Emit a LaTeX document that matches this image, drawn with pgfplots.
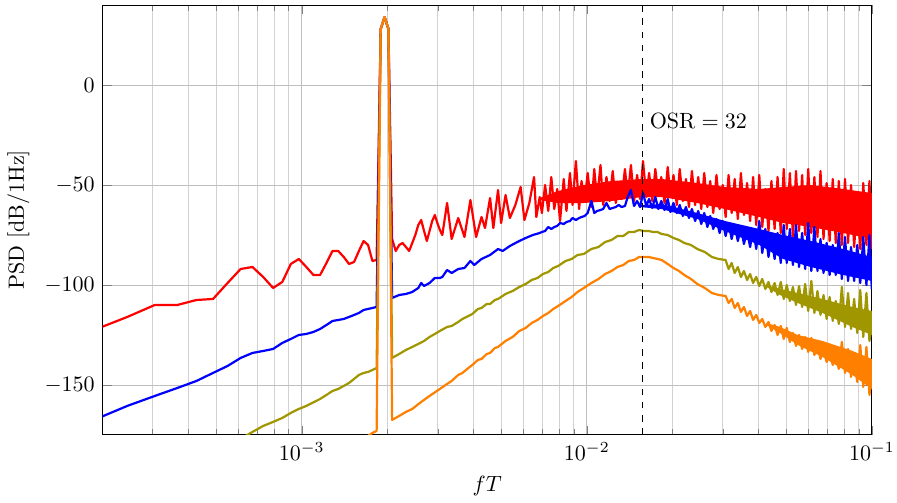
\documentclass[border=0pt]{standalone}
\usepackage{pgfplots}
\usepackage{pgfplotstable}
\pgfplotsset{compat=1.18}
\definecolor{myolive}{RGB}{160,150,0}
\definecolor{myorange}{RGB}{255,128,0}

% k = FFT bin index, f T = k/16384
\pgfplotstableread{
k y
3 -123
4 -116
5 -110
6 -110
7 -107.5
8 -107
9 -99
10 -92
11 -91
12 -96
13 -101.5
14 -98.5
15 -89.5
16 -87
17 -91
18 -95
19 -95
20 -89
21 -83
22 -83
23 -86
24 -89.5
25 -88.5
26 -83
27 -78
28 -80
29 -88
30 -87.5
31 28
32 34
33 28
34 -77
35 -83
36 -80
37 -79
38 -81
39 -83
40 -79
41 -75
42 -70
43 -67.5
44 -73
45 -78
46 -73
47 -68
48 -65
49 -69
50 -72.5
51 -75
53 -59
55 -77
58 -66.5
61 -76
64 -57.5
67 -76
70 -66
72 -71.5
75 -56.5
77 -71.5
80 -52.5
82 -69
85 -55
88 -66.5
92 -60
96 -51
99 -67.5
103 -59
107 -46
109 -66
112 -56
114 -64
117 -50
120 -63
123 -46
126 -62
129 -52
132 -68
136 -47
139 -63
143 -44
146 -60
150 -38
154 -62
157 -48
161 -58
165 -44
170 -61
174 -42
178 -57
183 -40
187 -60
192 -46
197 -58
202 -43
207 -59
212 -49
217 -57
223 -42
228 -56
234 -40
240 -58
246 -45
252 -57
258 -38
265 -56
271 -44
278 -58
285 -42
292 -55
299 -46
307 -59
315 -41
322 -56
330 -45
339 -60
347 -42
356 -58
365 -47
374 -61
383 -43
393 -60
403 -46
413 -62
423 -44
434 -61
444 -48
455 -64
467 -45
479 -62
491 -50
503 -66
515 -45
528 -64
541 -47
555 -67
569 -44
583 -65
598 -49
613 -68
628 -46
644 -70
660 -45
676 -71
693 -52
711 -73
728 -48
747 -72
765 -46
785 -74
804 -42
824 -72
845 -44
866 -76
888 -43
910 -73
933 -45
956 -75
980 -42
1005 -74
1030 -46
1056 -76
1082 -43
1109 -77
1137 -49
1165 -78
1195 -47
1224 -79
1255 -48
1286 -80
1319 -47
1352 -79
1385 -50
1420 -81
1456 -59
1492 -82
1529 -49
1568 -80
1607 -48
1638 -82
}\redtab

\pgfplotstableread{
k y
112 -56.5
130 -53
160 -50
200 -48
256 -47
300 -47
400 -49
500 -51
660 -52
800 -51
1000 -50
1300 -52
1638 -54
1638 -77
1300 -74
1000 -71
800 -69
660 -66
500 -62
400 -59
300 -56
256 -56
200 -58
160 -59
130 -59
112 -57.5
}\redcore

\pgfplotstableread{
k y
3 -168
4 -160.5
5 -155.5
6 -151.5
7 -148
8 -144
9 -140.5
10 -136.5
11 -134
12 -133
13 -132
14 -129
15 -127
16 -125
17 -124.5
18 -123.5
19 -122
20 -120
21 -118
22 -117.5
23 -117
24 -116
25 -115
26 -114
27 -112.5
28 -112
29 -111.5
30 -111
31 28
32 34
33 28
34 -106.5
36 -105
38 -104.5
40 -103.5
42 -101.5
43 -99
44 -100.5
46 -99
48 -96.5
50 -96.5
51 -96
53 -92.5
55 -94
58 -92
61 -91.5
64 -88
66 -90
70 -87
75 -85
80 -82
83 -83
88 -80.5
95 -78
100 -76.5
106 -75
112 -74
114 -73.5
117 -73
120 -71
123 -72
126 -71
129 -70.5
132 -69
136 -69.5
139 -68.5
143 -68
146 -66.5
150 -67.5
154 -66.5
157 -66
161 -65.5
165 -64
170 -58
174 -64
178 -63
183 -62.5
187 -62
192 -59
197 -62
202 -61.5
207 -61
212 -60
217 -61
223 -60.5
228 -56
234 -52.5
240 -60.5
246 -58
252 -61
258 -54
265 -60.5
271 -57
278 -61.5
285 -56
292 -62
299 -58
307 -62.5
315 -57
322 -63.5
330 -59
339 -64
347 -60
356 -65.5
365 -61
374 -66.5
383 -62
393 -68
403 -63
413 -69.5
423 -64
434 -71
444 -65.5
455 -72
467 -67
479 -74
491 -68
503 -75.5
515 -69
528 -77
541 -70
555 -78
569 -71
583 -79.5
598 -73
613 -81
628 -72
644 -82
660 -68
676 -84
693 -72
711 -86
728 -76
747 -87
765 -74
785 -89
804 -70
824 -89
845 -72
866 -90
888 -70
910 -91
933 -74
956 -92
980 -69
1005 -93
1030 -71
1056 -93
1082 -77
1109 -94
1137 -79
1165 -95
1195 -80
1224 -95
1255 -74
1286 -97
1319 -76
1352 -98
1385 -81
1420 -98
1456 -80
1492 -99
1529 -76
1568 -100
1607 -75
1638 -102
}\bluetab

\pgfplotstableread{
k y
250 -60
300 -59.5
400 -64
500 -68
660 -72
800 -75
1000 -78
1300 -82
1638 -86
1638 -98
1300 -95
1000 -91
800 -87
660 -80
500 -73
400 -67
300 -62
250 -61
}\bluecore

\pgfplotstableread{
k y
3 -210
6 -190
9 -180.5
10 -177
11 -173.5
12 -170.5
13 -168.5
14 -166.5
15 -164
16 -162
17 -160.5
18 -158.7
19 -157
20 -155
21 -153
22 -152
23 -150.5
24 -149
25 -147
26 -145
27 -144
28 -143.5
29 -142.5
30 -141.5
31 28
32 34
33 28
34 -136.5
36 -134.5
38 -132.5
40 -131
42 -129.5
44 -128
46 -126
48 -124.5
50 -123
53 -121
55 -120.5
58 -118.5
60 -117
63 -115.5
65 -114.5
68 -112
70 -111.5
73 -109.5
75 -109.5
78 -107.5
80 -107
85 -104.5
90 -103
95 -101
100 -99.5
105 -97.5
110 -96.5
115 -94.5
120 -93.5
125 -91.5
130 -90.5
138 -88
145 -87
152 -85
160 -84.5
170 -82
180 -81
190 -78.5
200 -77.5
210 -75.5
220 -75.5
230 -73.5
240 -73.5
250 -72.5
260 -73
270 -73
280 -73.5
290 -73.5
300 -74.5
315 -75
330 -76.5
345 -77.5
360 -79
380 -80
400 -82
425 -83.5
450 -86
475 -87
503 -87.5
515 -92
528 -89
541 -94
555 -91
569 -96
583 -93
598 -97.5
613 -94.5
628 -99
644 -96
660 -100.5
676 -97
693 -102
711 -98.5
728 -103.5
747 -99
765 -105
785 -98.5
804 -107
824 -100
845 -108
866 -101
888 -110
910 -100.5
933 -111
956 -99.5
980 -113
1005 -98
1030 -114
1056 -103
1082 -115
1109 -105
1137 -117
1165 -106
1195 -118
1224 -108
1255 -119.5
1286 -101
1319 -121
1352 -104
1385 -122
1420 -107
1456 -124
1492 -102.5
1529 -126
1568 -104
1607 -128
1638 -120
}\olivetab

\pgfplotstableread{
k y
700 -100
780 -102
900 -104
1100 -107
1400 -111
1638 -113
1638 -125
1400 -121
1100 -114
900 -109
780 -105
700 -101
}\olivecore

\pgfplotstableread{
k y
3 -240
10 -210
20 -188
25 -180
27 -177
28 -175.5
29 -174
30 -173
31 28
32 34
33 28
34 -167.5
36 -165.5
38 -163.5
40 -162
43 -158.5
46 -155.5
50 -152
53 -149.5
55 -148
58 -145
60 -144
63 -141.5
65 -140
68 -137.5
70 -137
73 -134.5
75 -134
78 -131.5
80 -131
85 -128
90 -126
95 -123
100 -121.5
105 -119
110 -117.5
115 -115.5
120 -114
125 -112
130 -110.5
138 -108
145 -106
152 -103.5
160 -101.5
170 -99
180 -97
190 -94.5
200 -93
210 -91
220 -90
230 -88
240 -87.5
250 -86
260 -86
270 -86
280 -86.5
290 -87
300 -87.5
315 -89.5
330 -91.5
345 -93
360 -95
380 -97
400 -99.5
425 -101.5
450 -104
475 -105
503 -105.5
515 -109
528 -107
541 -111.5
555 -109
569 -113.5
583 -111
598 -115.5
613 -113
628 -117.5
644 -115
660 -119
676 -117
693 -121
711 -118.5
728 -123
747 -120
765 -125
785 -120.5
804 -127
824 -121.5
845 -128.5
866 -124
888 -130.5
910 -125
933 -132
956 -126
980 -133.5
1005 -126.5
1030 -135
1056 -130
1082 -137
1109 -132
1137 -138.5
1165 -134
1195 -140
1224 -136
1255 -142
1286 -128.5
1319 -144
1352 -132
1385 -146
1420 -136
1456 -148.5
1492 -130
1529 -151
1568 -131
1607 -155
1638 -146
}\orangetab

\pgfplotstableread{
k y
700 -119
780 -121
900 -125
1100 -128
1400 -133
1638 -137
1638 -152
1400 -145
1100 -136
900 -130
780 -124
700 -120
}\orangecore

\begin{document}
\begin{tikzpicture}
\begin{axis}[
  scale only axis,
  width=349pt, height=195pt,
  xmode=log,
  xmin=2e-4, xmax=0.1,
  ymin=-175, ymax=40,
  ytick={-150,-100,-50,0},
  grid=both,
  major grid style={gray!50, line width=0.4pt},
  minor grid style={gray!35, line width=0.4pt},
  xlabel={$fT$},
  ylabel={PSD [dB/1Hz]},
  every axis plot/.append style={line width=1pt, line join=round},
]
\addplot[red, fill=red, draw=none, mark=none] table[x expr=\thisrow{k}/16384, y=y] {\redcore};
\addplot[red, mark=none] table[x expr=\thisrow{k}/16384, y=y] {\redtab};
\addplot[blue, fill=blue, draw=none, mark=none] table[x expr=\thisrow{k}/16384, y=y] {\bluecore};
\addplot[blue, mark=none] table[x expr=\thisrow{k}/16384, y=y] {\bluetab};
\addplot[myolive, fill=myolive, draw=none, mark=none] table[x expr=\thisrow{k}/16384, y=y] {\olivecore};
\addplot[myolive, mark=none] table[x expr=\thisrow{k}/16384, y=y] {\olivetab};
\addplot[myorange, fill=myorange, draw=none, mark=none] table[x expr=\thisrow{k}/16384, y=y] {\orangecore};
\addplot[myorange, mark=none] table[x expr=\thisrow{k}/16384, y=y] {\orangetab};
\addplot[black, dashed, line width=0.5pt, mark=none] coordinates {(0.015625,-175) (0.015625,40)};
\node[anchor=west] at (axis cs:0.015625,-18) {$\mathrm{OSR} = 32$};
\end{axis}
\coordinate (bbsw) at (current bounding box.south west);
\pgfresetboundingbox
\path (bbsw) rectangle ([xshift=11.4pt, yshift=2.3pt]current axis.north east);
\end{tikzpicture}
\end{document}
